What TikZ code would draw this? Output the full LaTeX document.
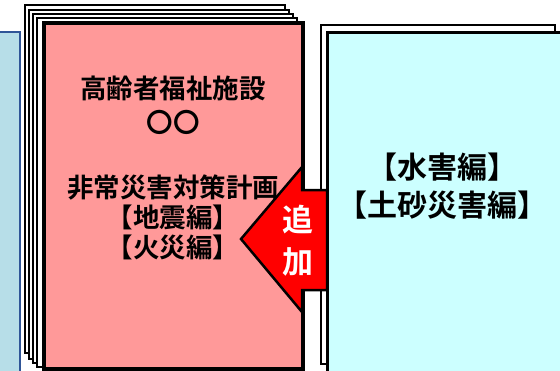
\documentclass[tikz,border=0pt]{standalone}
\usepackage{fontspec}
\newfontfamily\jp{Noto Sans CJK JP}[BoldFont={Noto Sans CJK JP Bold}]
\definecolor{pinkfill}{HTML}{FF9999}
\definecolor{cyanfill}{HTML}{CCFFFF}
\definecolor{bluefill}{HTML}{B7DEE8}
\definecolor{blueline}{HTML}{2F5597}
\begin{document}
\begin{tikzpicture}[x=1pt,y=-1pt,
  sheet/.style={draw=black, line width=2pt, fill=white, anchor=north west, inner sep=0pt},
  pinksheet/.style={draw=black, line width=3.5pt, fill=pinkfill, anchor=north west, inner sep=0pt},
  cyansheet/.style={draw=black, line width=3pt, fill=cyanfill, anchor=north west, inner sep=0pt},
  bluesheet/.style={draw=blueline, line width=1.8pt, fill=bluefill, anchor=north west, inner sep=0pt},
  label/.style={font=\jp\bfseries\fontsize{26.5}{30}\selectfont, align=center, text=black},
  biglabel/.style={font=\jp\bfseries\fontsize{30}{30}\selectfont, align=center, text=black},
  addlabel/.style={font=\jp\bfseries\fontsize{31}{30}\selectfont, text=white},
  addarrow/.style={draw=black, line width=2.5pt, fill=red, line join=miter}]
\useasboundingbox (0,0) rectangle (560,370);
\begin{scope}
\clip (0,0) rectangle (560,370);
% left blue document
\node[bluesheet, minimum width=40pt, minimum height=360pt] (blue) at (-21,31) {};
% pink stack
\node[sheet, minimum width=260pt, minimum height=348pt] (p1) at (24,4) {};
\node[sheet, minimum width=260pt, minimum height=349pt] (p2) at (28,8.5) {};
\node[sheet, minimum width=260pt, minimum height=349pt] (p3) at (32,13) {};
\node[sheet, minimum width=260pt, minimum height=349pt] (p4) at (36,17) {};
\node[pinksheet, minimum width=259pt, minimum height=346pt] (plan) at (42,21) {};
% cyan stack (back)
\node[sheet, minimum width=234pt, minimum height=339pt] (c1) at (320,24) {};
% arrow
\path[addarrow] (327,190) -- (302,190) -- (302,167) -- (241,239) -- (302,312) -- (302,290) -- (327,290) -- cycle;
% cyan front
\node[cyansheet, minimum width=260pt, minimum height=360pt] (water) at (326,31) {};
\end{scope}
% texts
\node[label] (t1) at (173,88) {高齢者福祉施設};
\node[label] (t2) at (173,122) {〇〇};
\node[label] (t3) at (173,187) {非常災害対策計画};
\node[label] (t4) at (173,217) {【地震編】};
\node[label] (t5) at (173,247) {【火災編】};
\node[biglabel] (t6) at (442,167) {【水害編】};
\node[biglabel] (t7) at (442,205) {【土砂災害編】};
\node[addlabel] (add1) at (298,220) {追};
\node[addlabel] (add2) at (298,262) {加};
\end{tikzpicture}
\end{document}
